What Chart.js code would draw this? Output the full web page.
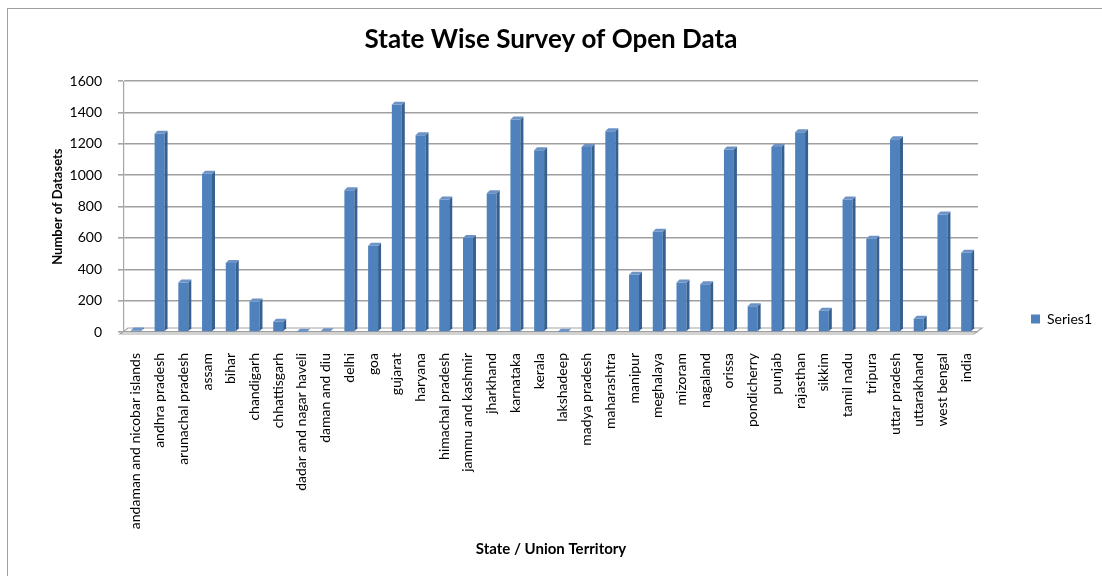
<!DOCTYPE html>
<html>
<head>
<meta charset="utf-8">
<script src="https://cdn.jsdelivr.net/npm/chart.js@4.4.1/dist/chart.umd.min.js"></script>
<style>
  body { margin: 0; background: #fff; }
  #wrap { position: relative; width: 1102px; height: 576px; }
  #frame { position: absolute; left: 7px; top: 8px; width: 1200px; height: 700px;
           border: 1px solid #a0a0a0; pointer-events: none; }
</style>
</head>
<body>
<div id="wrap">
  <canvas id="myChart" width="1102" height="576"></canvas>
  <div id="frame"></div>
</div>
<script>
  const states = ["andaman and nicobar islands", "andhra pradesh", "arunachal pradesh", "assam", "bihar",
    "chandigarh", "chhattisgarh", "dadar and nagar haveli", "daman and diu", "delhi", "goa", "gujarat",
    "haryana", "himachal pradesh", "jammu and kashmir", "jharkhand", "karnataka", "kerala", "lakshadeep",
    "madya pradesh", "maharashtra", "manipur", "meghalaya", "mizoram", "nagaland", "orissa", "pondicherry",
    "punjab", "rajasthan", "sikkim", "tamil nadu", "tripura", "uttar pradesh", "uttarakhand", "west bengal", "india"];

  const datasets = [10, 1265, 315, 1010, 440,
    195, 65, 2, 5, 905, 550, 1450,
    1255, 845, 600, 885, 1355, 1160, 2,
    1180, 1280, 365, 640, 315, 305, 1165, 165,
    1180, 1275, 135, 845, 595, 1230, 85, 750, 505];

  const yTicks = [0, 200, 400, 600, 800, 1000, 1200, 1400, 1600];

  const FONT = "Lato, 'Open Sans', sans-serif";
  const depth = 3;
  const legendPad = 53;

  // fake 3d look: side + top faces of every bar, and the floor
  const threeD = {
    id: "threeD",
    afterLayout(chart) {
      // the big label padding pushes the legend item right; undo the vertical part of it
      chart.legend.top += legendPad - 6;
      chart.legend.bottom += legendPad - 6;
    },
    beforeDatasetsDraw(chart) {
      const ctx = chart.ctx;
      const a = chart.chartArea;
      ctx.save();
      ctx.strokeStyle = "#a6a6a6";
      ctx.lineWidth = 1.2;
      ctx.beginPath();
      ctx.moveTo(a.left - 4, a.bottom + 2);
      ctx.lineTo(a.right - 4, a.bottom + 2);
      ctx.lineTo(a.right + 4, a.bottom - 4);
      ctx.lineTo(a.left + 4, a.bottom - 4);
      ctx.closePath();
      ctx.stroke();
      ctx.restore();
    },
    afterDatasetsDraw(chart) {
      const ctx = chart.ctx;
      const meta = chart.getDatasetMeta(0);
      ctx.save();
      meta.data.forEach(bar => {
        const w = bar.width / 2;
        const r = bar.x + w, l = bar.x - w;
        ctx.fillStyle = "#36608f";
        ctx.beginPath();
        ctx.moveTo(r, bar.y);
        ctx.lineTo(r + depth, bar.y - depth);
        ctx.lineTo(r + depth, bar.base - depth);
        ctx.lineTo(r, bar.base);
        ctx.closePath();
        ctx.fill();
        ctx.fillStyle = "#6d93c6";
        ctx.beginPath();
        ctx.moveTo(l, bar.y);
        ctx.lineTo(l + depth, bar.y - depth);
        ctx.lineTo(r + depth, bar.y - depth);
        ctx.lineTo(r, bar.y);
        ctx.closePath();
        ctx.fill();
      });
      ctx.restore();
    }
  };

  new Chart("myChart", {
    type: "bar",
    data: {
      labels: states,
      datasets: [{
        label: "Series1",
        data: datasets,
        backgroundColor: "#4f81bd",
        barPercentage: 0.42,
        categoryPercentage: 1
      }]
    },
    options: {
      responsive: false,
      animation: false,
      layout: { padding: { left: 50, right: 0, top: 0, bottom: 14 } },
      plugins: {
        title: {
          display: true,
          fullSize: false,
          text: "State Wise Survey of Open Data",
          color: "#000",
          font: { family: FONT, size: 26, weight: "bold" },
          padding: { top: 24, bottom: 26 }
        },
        legend: {
          position: "right",
          align: "end",
          fullSize: false,
          labels: {
            color: "#000",
            boxWidth: 9,
            boxHeight: 9,
            padding: legendPad,
            font: { family: FONT, size: 14 }
          }
        },
        tooltip: { enabled: false }
      },
      scales: {
        x: {
          grid: { display: false },
          border: { display: false },
          ticks: {
            color: "#000",
            minRotation: 90,
            maxRotation: 90,
            autoSkip: false,
            padding: 13,
            font: { family: FONT, size: 14 }
          },
          title: {
            display: true,
            text: "State / Union Territory",
            color: "#000",
            font: { family: FONT, size: 15, weight: "bold" }
          },
          afterFit(scale) { scale.height = 230; }
        },
        y: {
          min: 0,
          max: 1600,
          afterBuildTicks(scale) { scale.ticks = yTicks.map(v => ({ value: v })); },
          grid: { color: "#a0a0a0", lineWidth: 1.6, tickLength: 6, tickColor: "#a6a6a6" },
          border: { display: true, color: "#a6a6a6", width: 1.2 },
          ticks: {
            color: "#000",
            padding: 16,
            font: { family: FONT, size: 14 },
            callback: v => String(v)
          },
          title: {
            display: true,
            text: "Number of Datasets",
            color: "#000",
            font: { family: FONT, size: 13, weight: "bold" },
            padding: 0
          },
          afterFit(scale) { scale.width = 74; }
        }
      }
    },
    plugins: [threeD]
  });
</script>
</body>
</html>
